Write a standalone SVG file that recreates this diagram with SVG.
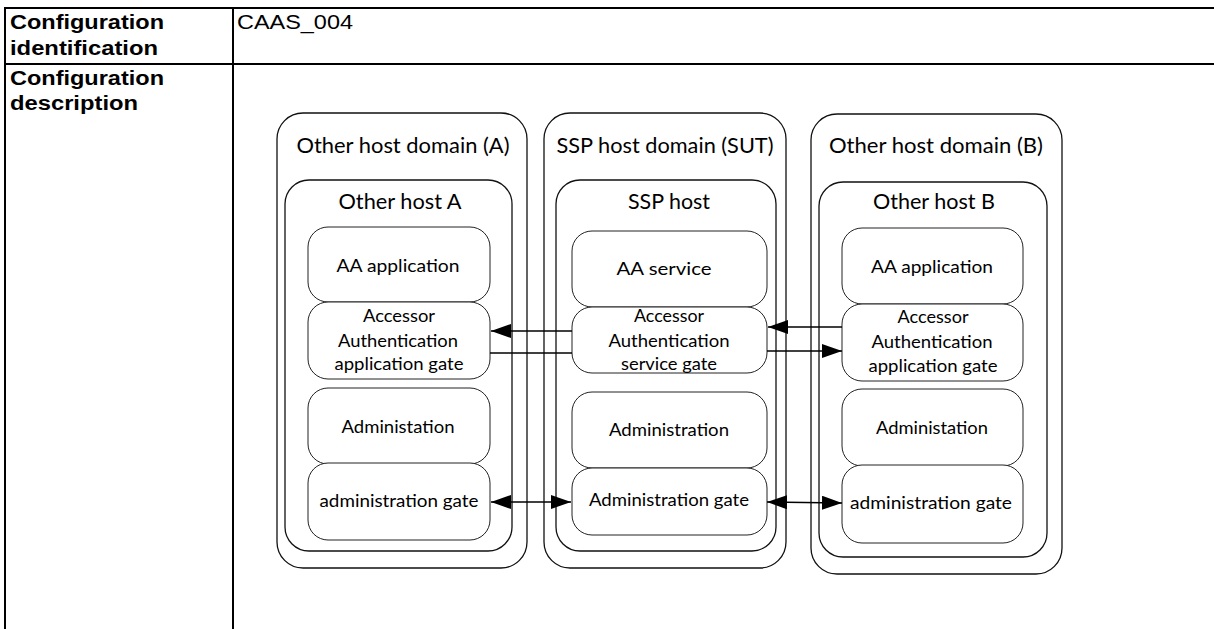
<svg xmlns="http://www.w3.org/2000/svg" width="1214" height="629" viewBox="0 0 1214 629">
<style>
.tbl{stroke:#000;stroke-width:2;fill:none}
.hd{font-family:"Liberation Sans",Arial,sans-serif;font-weight:bold;font-size:20px;fill:#000}
.rg{font-family:"Liberation Sans",Arial,sans-serif;font-size:20px;fill:#000}
.dom{fill:#fff;stroke:#111;stroke-width:1.3}
.host{fill:#fff;stroke:#111;stroke-width:1.3}
.box{fill:#fff;stroke:#222;stroke-width:1}
.t1{font-family:Lato,"Open Sans",sans-serif;font-size:21px;fill:#000;text-anchor:middle}
.t3{font-family:Lato,"Open Sans",sans-serif;font-size:17px;fill:#000;text-anchor:middle}
.con{stroke:#000;stroke-width:1.6;fill:none}
</style>
<defs>
<marker id="ah" markerUnits="userSpaceOnUse" markerWidth="20" markerHeight="14" refX="20" refY="7" orient="auto-start-reverse">
<path d="M0,0 L20,7 L0,14 Z" fill="#000"/>
</marker>
</defs>
<rect width="1214" height="629" fill="#fff"/>
<g id="table">
<line class="tbl" x1="4" y1="8" x2="1214" y2="8"/>
<line class="tbl" x1="4" y1="64" x2="1214" y2="64"/>
<line class="tbl" x1="5" y1="7" x2="5" y2="629"/>
<line class="tbl" x1="233" y1="7" x2="233" y2="629"/>
<text class="hd" x="10" y="29" textLength="154" lengthAdjust="spacingAndGlyphs">Configuration</text>
<text class="hd" x="10" y="55" textLength="148" lengthAdjust="spacingAndGlyphs">identification</text>
<text class="hd" x="10" y="85" textLength="154" lengthAdjust="spacingAndGlyphs">Configuration</text>
<text class="hd" x="10" y="110" textLength="128" lengthAdjust="spacingAndGlyphs">description</text>
<text class="rg" x="237" y="29" textLength="116" lengthAdjust="spacingAndGlyphs">CAAS_004</text>
</g>
<g id="domain-a">
<rect class="dom" x="277" y="113" width="250" height="455" rx="26"/>
<text class="t1" x="403" y="153" textLength="213" lengthAdjust="spacingAndGlyphs">Other host domain (A)</text>
</g>
<g id="host-a">
<rect class="host" x="285" y="180" width="227" height="371" rx="24"/>
<text class="t1" x="400" y="209" textLength="123" lengthAdjust="spacingAndGlyphs">Other host A</text>
</g>
<g id="aa-application-a">
<rect class="box" x="308" y="227" width="182" height="75" rx="20"/>
<text class="t3" x="398" y="272" textLength="123" lengthAdjust="spacingAndGlyphs">AA  application</text>
</g>
<g id="aa-gate-a">
<rect class="box" x="308" y="302" width="182" height="77" rx="20"/>
<text class="t3" x="399" y="322" textLength="72" lengthAdjust="spacingAndGlyphs">Accessor</text>
<text class="t3" x="398" y="347" textLength="120" lengthAdjust="spacingAndGlyphs">Authentication</text>
<text class="t3" x="399" y="370" textLength="129" lengthAdjust="spacingAndGlyphs">application gate</text>
</g>
<g id="admin-a">
<rect class="box" x="308" y="388" width="182" height="76" rx="20"/>
<text class="t3" x="398" y="433" textLength="113" lengthAdjust="spacingAndGlyphs">Administation</text>
</g>
<g id="admin-gate-a">
<rect class="box" x="308" y="463" width="182" height="77" rx="20"/>
<text class="t3" x="399" y="507" textLength="159" lengthAdjust="spacingAndGlyphs">administration gate</text>
</g>
<g id="domain-sut">
<rect class="dom" x="544" y="113" width="242" height="455" rx="26"/>
<text class="t1" x="665" y="153" textLength="217" lengthAdjust="spacingAndGlyphs">SSP host domain (SUT)</text>
</g>
<g id="ssp-host">
<rect class="host" x="556" y="180" width="220" height="371" rx="24"/>
<text class="t1" x="669" y="209" textLength="82" lengthAdjust="spacingAndGlyphs">SSP host</text>
</g>
<g id="aa-service">
<rect class="box" x="572" y="231" width="195" height="76" rx="20"/>
<text class="t3" x="664" y="275" textLength="95" lengthAdjust="spacingAndGlyphs">AA service</text>
</g>
<g id="aa-gate-ssp">
<rect class="box" x="572" y="307" width="195" height="66" rx="20"/>
<text class="t3" x="669" y="322" textLength="70" lengthAdjust="spacingAndGlyphs">Accessor</text>
<text class="t3" x="669" y="347" textLength="121" lengthAdjust="spacingAndGlyphs">Authentication</text>
<text class="t3" x="669" y="370" textLength="96" lengthAdjust="spacingAndGlyphs">service gate</text>
</g>
<g id="admin-ssp">
<rect class="box" x="572" y="392" width="195" height="76" rx="20"/>
<text class="t3" x="669" y="436" textLength="120" lengthAdjust="spacingAndGlyphs">Administration</text>
</g>
<g id="admin-gate-ssp">
<rect class="box" x="572" y="468" width="195" height="67" rx="20"/>
<text class="t3" x="669" y="506" textLength="160" lengthAdjust="spacingAndGlyphs">Administration gate</text>
</g>
<g id="domain-b">
<rect class="dom" x="811" y="114" width="251" height="460" rx="26"/>
<text class="t1" x="936" y="153" textLength="214" lengthAdjust="spacingAndGlyphs">Other host domain (B)</text>
</g>
<g id="host-b">
<rect class="host" x="819" y="182" width="228" height="375" rx="24"/>
<text class="t1" x="934" y="209" textLength="122" lengthAdjust="spacingAndGlyphs">Other host B</text>
</g>
<g id="aa-application-b">
<rect class="box" x="842" y="228" width="181" height="76" rx="20"/>
<text class="t3" x="932" y="273" textLength="122" lengthAdjust="spacingAndGlyphs">AA  application</text>
</g>
<g id="aa-gate-b">
<rect class="box" x="842" y="304" width="181" height="77" rx="20"/>
<text class="t3" x="933" y="323" textLength="71" lengthAdjust="spacingAndGlyphs">Accessor</text>
<text class="t3" x="932" y="348" textLength="121" lengthAdjust="spacingAndGlyphs">Authentication</text>
<text class="t3" x="933" y="372" textLength="129" lengthAdjust="spacingAndGlyphs">application gate</text>
</g>
<g id="admin-b">
<rect class="box" x="842" y="389" width="181" height="77" rx="20"/>
<text class="t3" x="932" y="434" textLength="112" lengthAdjust="spacingAndGlyphs">Administation</text>
</g>
<g id="admin-gate-b">
<rect class="box" x="842" y="465" width="181" height="78" rx="20"/>
<text class="t3" x="931" y="509" textLength="162" lengthAdjust="spacingAndGlyphs">administration gate</text>
</g>
<g id="connectors">
<line class="con" x1="572" y1="331" x2="491" y2="331" marker-end="url(#ah)"/>
<line class="con" x1="490" y1="353" x2="572" y2="353"/>
<line class="con" x1="842" y1="327" x2="768" y2="327" marker-end="url(#ah)"/>
<line class="con" x1="767" y1="351" x2="842" y2="351" marker-end="url(#ah)"/>
<line class="con" x1="491" y1="502" x2="571" y2="502" marker-start="url(#ah)" marker-end="url(#ah)"/>
<line class="con" x1="767" y1="502" x2="842" y2="503" marker-start="url(#ah)" marker-end="url(#ah)"/>
</g>
</svg>
